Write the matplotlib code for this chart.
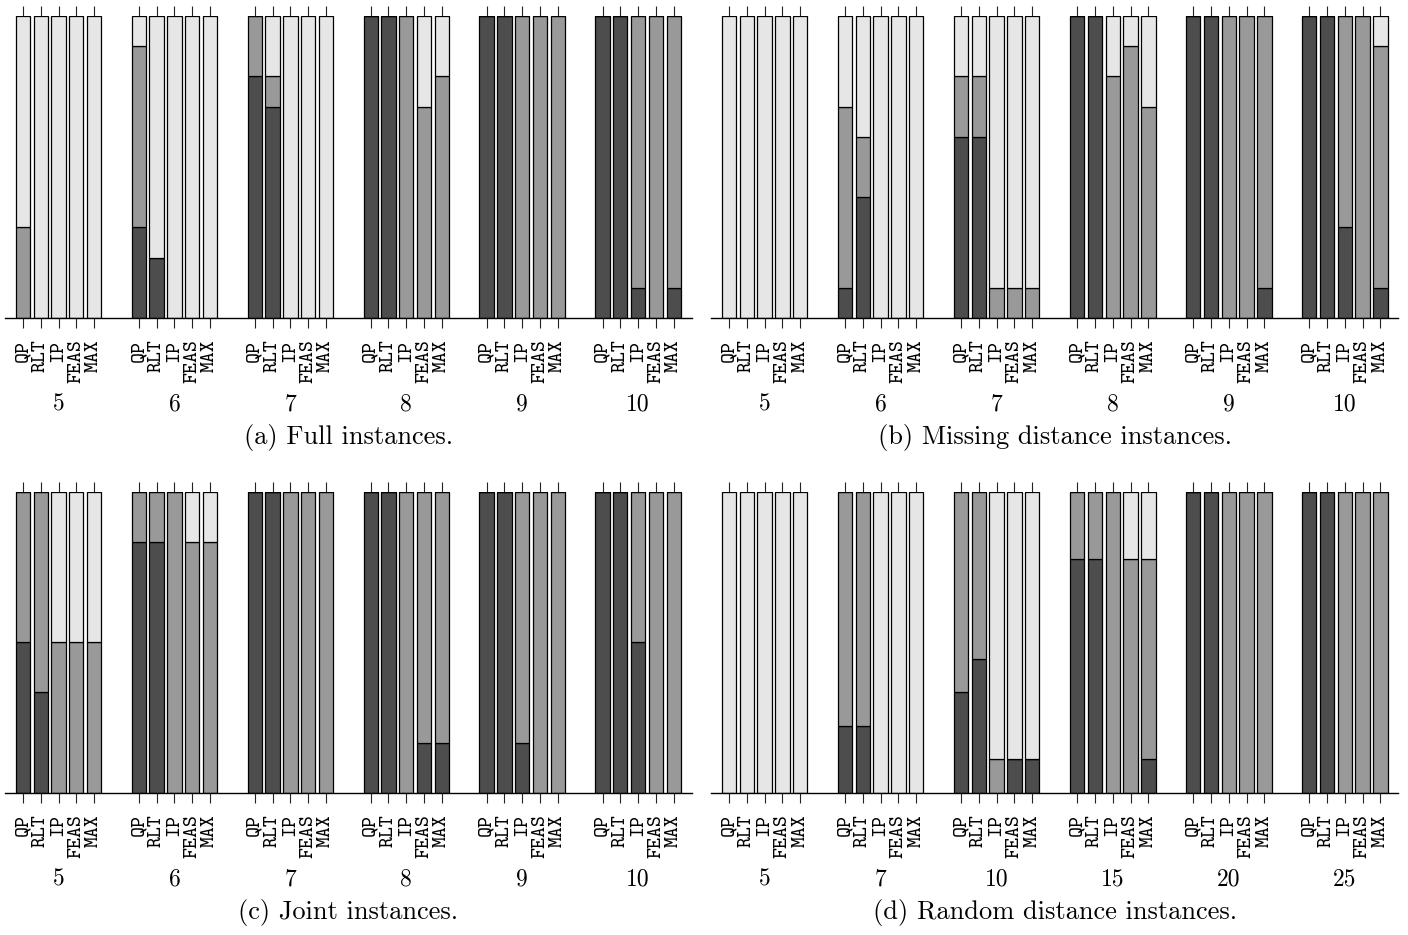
import matplotlib
matplotlib.use("Agg")
import matplotlib.pyplot as plt
import numpy as np

methods = ["QP", "RLT", "IP", "FEAS", "MAX"]

# (a) Full instances, 10 instances per size
sizes_a = ["5", "6", "7", "8", "9", "10"]
n_a = 10
dark_a = [[0, 0, 0, 0, 0], [3, 2, 0, 0, 0], [8, 7, 0, 0, 0],
          [10, 10, 0, 0, 0], [10, 10, 0, 0, 0], [10, 10, 1, 0, 1]]
mid_a = [[3, 0, 0, 0, 0], [6, 0, 0, 0, 0], [2, 1, 0, 0, 0],
         [0, 0, 10, 7, 8], [0, 0, 10, 10, 10], [0, 0, 9, 10, 9]]

# (b) Missing distance instances, 10 per size
sizes_b = ["5", "6", "7", "8", "9", "10"]
n_b = 10
dark_b = [[0, 0, 0, 0, 0], [1, 4, 0, 0, 0], [6, 6, 0, 0, 0],
          [10, 10, 0, 0, 0], [10, 10, 0, 0, 1], [10, 10, 3, 0, 1]]
mid_b = [[0, 0, 0, 0, 0], [6, 2, 0, 0, 0], [2, 2, 1, 1, 1],
         [0, 0, 8, 9, 7], [0, 0, 10, 10, 9], [0, 0, 7, 10, 8]]

# (c) Joint instances, 6 per size
sizes_c = ["5", "6", "7", "8", "9", "10"]
n_c = 6
dark_c = [[3, 2, 0, 0, 0], [5, 5, 0, 0, 0], [6, 6, 0, 0, 0],
          [6, 6, 0, 1, 1], [6, 6, 1, 0, 0], [6, 6, 3, 0, 0]]
mid_c = [[3, 4, 3, 3, 3], [1, 1, 6, 5, 5], [0, 0, 6, 6, 6],
         [0, 0, 6, 5, 5], [0, 0, 5, 6, 6], [0, 0, 3, 6, 6]]

# (d) Random distance instances, 9 per size
sizes_d = ["5", "7", "10", "15", "20", "25"]
n_d = 9
dark_d = [[0, 0, 0, 0, 0], [2, 2, 0, 0, 0], [3, 4, 0, 1, 1],
          [7, 7, 0, 0, 1], [9, 9, 0, 0, 0], [9, 9, 0, 0, 0]]
mid_d = [[0, 0, 0, 0, 0], [7, 7, 0, 0, 0], [6, 5, 1, 0, 0],
         [2, 2, 9, 7, 6], [0, 0, 9, 9, 9], [0, 0, 9, 9, 9]]

captions = ["(a) Full instances.", "(b) Missing distance instances.",
            "(c) Joint instances.", "(d) Random distance instances."]

C_DARK, C_MID, C_LIGHT = "#4d4d4d", "#999999", "#e6e6e6"

W, H = 1408, 935
fig = plt.figure(figsize=(W / 100, H / 100), dpi=100)

def px_axes(x0, x1, ytop, ybot):
    return fig.add_axes([x0 / W, 1 - ybot / H, (x1 - x0) / W, (ybot - ytop) / H])

boxes = [(5, 691.7, 16, 318), (711, 1398.3, 16, 318),
         (5, 691.7, 491.7, 792.7), (711, 1398.3, 491.7, 792.7)]
panels = [(sizes_a, n_a, dark_a, mid_a), (sizes_b, n_b, dark_b, mid_b),
          (sizes_c, n_c, dark_c, mid_c), (sizes_d, n_d, dark_d, mid_d)]

GROUP_STEP = 6.5
for box, (sizes, n, dark, mid), cap in zip(boxes, panels, captions):
    ax = px_axes(*box)
    d = np.array(dark, dtype=float) / n
    m = np.array(mid, dtype=float) / n
    l = 1.0 - d - m
    xs, labels, centers = [], [], []
    for g in range(len(sizes)):
        pos = g * GROUP_STEP + np.arange(len(methods))
        xs.extend(pos)
        labels.extend(methods)
        centers.append(pos.mean())
        kw = dict(width=0.8, edgecolor="black", linewidth=0.9, zorder=2)
        ax.bar(pos, d[g], color=C_DARK, **kw)
        ax.bar(pos, m[g], bottom=d[g], color=C_MID, **kw)
        ax.bar(pos, l[g], bottom=d[g] + m[g], color=C_LIGHT, **kw)
    ax.set_xlim(-1, (len(sizes) - 1) * GROUP_STEP + len(methods))
    ax.set_ylim(0, 1)
    for s in ["left", "right", "top"]:
        ax.spines[s].set_visible(False)
    ax.spines["bottom"].set_linewidth(1.0)
    ax.set_yticks([])
    ax.set_xticks(xs)
    ax.set_xticklabels(labels, rotation=90, family="cmtt10", fontsize=15)
    ax.tick_params(axis="x", which="both", direction="out", top=True,
                   bottom=True, labeltop=False, length=7.5, width=0.8,
                   pad=8, color="#222222")
    for c, s in zip(centers, sizes):
        ax.annotate(s, xy=(c, 0), xycoords=("data", "axes fraction"),
                    xytext=(0, -62.5), textcoords="offset points",
                    ha="center", va="center", family="cmr10", fontsize=17)
    ax.annotate(cap, xy=(0.5, 0), xycoords="axes fraction",
                xytext=(0, -86), textcoords="offset points",
                ha="center", va="center", family="cmr10", fontsize=19)

fig.savefig("out.png", dpi=100)
